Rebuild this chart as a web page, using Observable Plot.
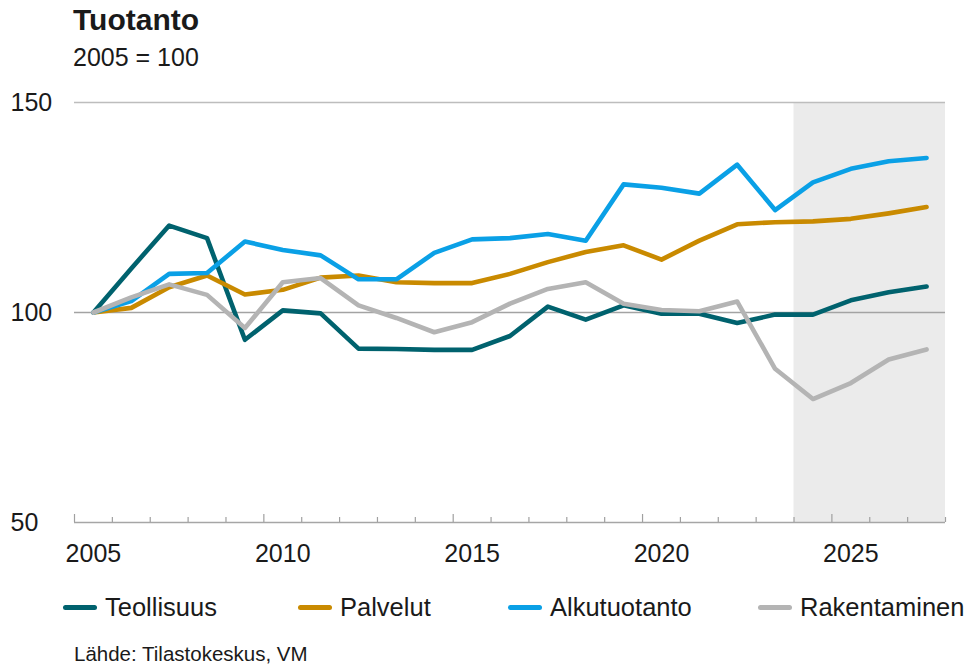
<!DOCTYPE html>
<html>
<head>
<meta charset="utf-8">
<script src="https://cdn.jsdelivr.net/npm/d3@7"></script>
<script src="https://cdn.jsdelivr.net/npm/@observablehq/plot@0.6"></script>
<style>
  html, body { margin: 0; padding: 0; background: #fff; }
  #wrap { position: relative; width: 969px; height: 666px; font-family: "Liberation Sans", Arial, sans-serif; color: #1a1a1a; overflow: hidden; }
  #title { position: absolute; left: 73px; top: 3px; font-size: 30px; font-weight: bold; }
  #subtitle { position: absolute; left: 73px; top: 43px; font-size: 25px; }
  #chart { position: absolute; left: 0; top: 0; }
  .leg { position: absolute; top: 592px; height: 30px; display: flex; align-items: center; font-size: 25.5px; white-space: nowrap; }
  .sw { width: 34px; height: 5px; border-radius: 3px; margin-right: 8px; }
  #source { position: absolute; left: 74px; top: 642px; font-size: 20.5px; }
</style>
</head>
<body>
<div id="wrap">
  <div id="chart"></div>
  <div id="title">Tuotanto</div>
  <div id="subtitle">2005 = 100</div>
  <div id="legend"></div>
  <div id="source">Lähde: Tilastokeskus, VM</div>
</div>
<script>
const years = [2005,2006,2007,2008,2009,2010,2011,2012,2013,2014,2015,2016,2017,2018,2019,2020,2021,2022,2023,2024,2025,2026,2027];
const forecastYears = [2024,2025,2026,2027];
const seriesNames = ["Teollisuus","Palvelut","Alkutuotanto","Rakentaminen"];
const seriesColors = ["#00626e","#c98a00","#0aa0e6","#b4b4b4"];
const teollisuus   = [100,110.5,120.7,117.7,93.5,100.5,99.8,91.4,91.3,91.1,91.1,94.4,101.4,98.3,101.7,99.7,99.7,97.5,99.5,99.5,102.9,104.8,106.2];
const palvelut     = [100,101.1,106.0,108.8,104.3,105.4,108.3,108.8,107.2,107.0,107.0,109.2,112.0,114.4,116.0,112.6,117.1,121.0,121.5,121.7,122.3,123.6,125.1];
const alkutuotanto = [100,102.7,109.2,109.4,116.9,114.9,113.6,107.9,107.9,114.2,117.4,117.7,118.7,117.1,130.5,129.7,128.3,135.2,124.4,131.0,134.2,136.0,136.8];
const rakentaminen = [100,103.6,106.7,104.2,96.3,107.2,108.2,101.7,98.7,95.3,97.7,102.1,105.6,107.2,102.1,100.6,100.3,102.6,86.6,79.4,83.2,88.8,91.2];
const yTicks = [50,100,150];
const xTickLabels = [2005,2010,2015,2020,2025];

const seriesValues = [teollisuus, palvelut, alkutuotanto, rakentaminen];
const tidy = [];
seriesNames.forEach((name, i) => {
  years.forEach((yr, j) => tidy.push({series: name, year: yr, value: seriesValues[i][j]}));
});

const firstYear = years[0], lastYear = years[years.length - 1];
const boundaries = years.map(y => y - 0.5).concat([lastYear + 0.5]);
const majorB = boundaries.filter(b => (b + 0.5) % 5 === 0);
const minorB = boundaries.filter(b => (b + 0.5) % 5 !== 0);
const yMin = yTicks[0], yMax = yTicks[yTicks.length - 1];
const shade = [{x1: forecastYears[0] - 0.5, x2: forecastYears[forecastYears.length - 1] + 0.5, y1: yMin, y2: yMax}];

const chart = Plot.plot({
  width: 969,
  height: 580,
  marginTop: 102,
  marginBottom: 58,
  marginLeft: 74,
  marginRight: 24,
  style: {fontFamily: "'Liberation Sans', Arial, sans-serif", fontSize: "25px", color: "#1a1a1a", background: "transparent"},
  x: {domain: [firstYear - 0.5, lastYear + 0.5]},
  y: {domain: [yMin, yMax]},
  color: {domain: seriesNames, range: seriesColors},
  marks: [
    Plot.rect(shade, {x1: "x1", x2: "x2", y1: "y1", y2: "y2", fill: "#ebebeb"}),
    Plot.ruleY([yTicks[1]], {stroke: "#a3a3a3", strokeWidth: 1.3}),
    Plot.ruleY([yTicks[2]], {stroke: "#bdbdbd", strokeWidth: 1.3}),
    Plot.ruleY([yTicks[0]], {stroke: "#a6a6a6", strokeWidth: 1.5}),
    Plot.ruleX(minorB, {x: d => d, y1: () => yMin, y2: () => yMin, insetTop: -5, stroke: "#a0a0a0", strokeWidth: 1.2}),
    Plot.ruleX(majorB, {x: d => d, y1: () => yMin, y2: () => yMin, insetTop: -8, stroke: "#a0a0a0", strokeWidth: 1.2}),
    Plot.axisY({ticks: yTicks, tickSize: 0, tickPadding: 0, textAnchor: "start", dx: -64, fontSize: 25, tickFormat: d => String(d)}),
    Plot.axisX({ticks: xTickLabels, tickSize: 0, tickPadding: 22, fontSize: 25, tickFormat: d => String(d)}),
    Plot.line(tidy, {x: "year", y: "value", z: "series", stroke: "series", strokeWidth: 4.6, strokeLinecap: "round", strokeLinejoin: "round"})
  ]
});
document.getElementById("chart").appendChild(chart);

const legLefts = [63, 298, 508, 758];
const legend = document.getElementById("legend");
seriesNames.forEach((name, i) => {
  const item = document.createElement("div");
  item.className = "leg";
  item.style.left = legLefts[i] + "px";
  const sw = document.createElement("div");
  sw.className = "sw";
  sw.style.background = seriesColors[i];
  const t = document.createElement("span");
  t.textContent = name;
  item.appendChild(sw);
  item.appendChild(t);
  legend.appendChild(item);
});
</script>
</body>
</html>
